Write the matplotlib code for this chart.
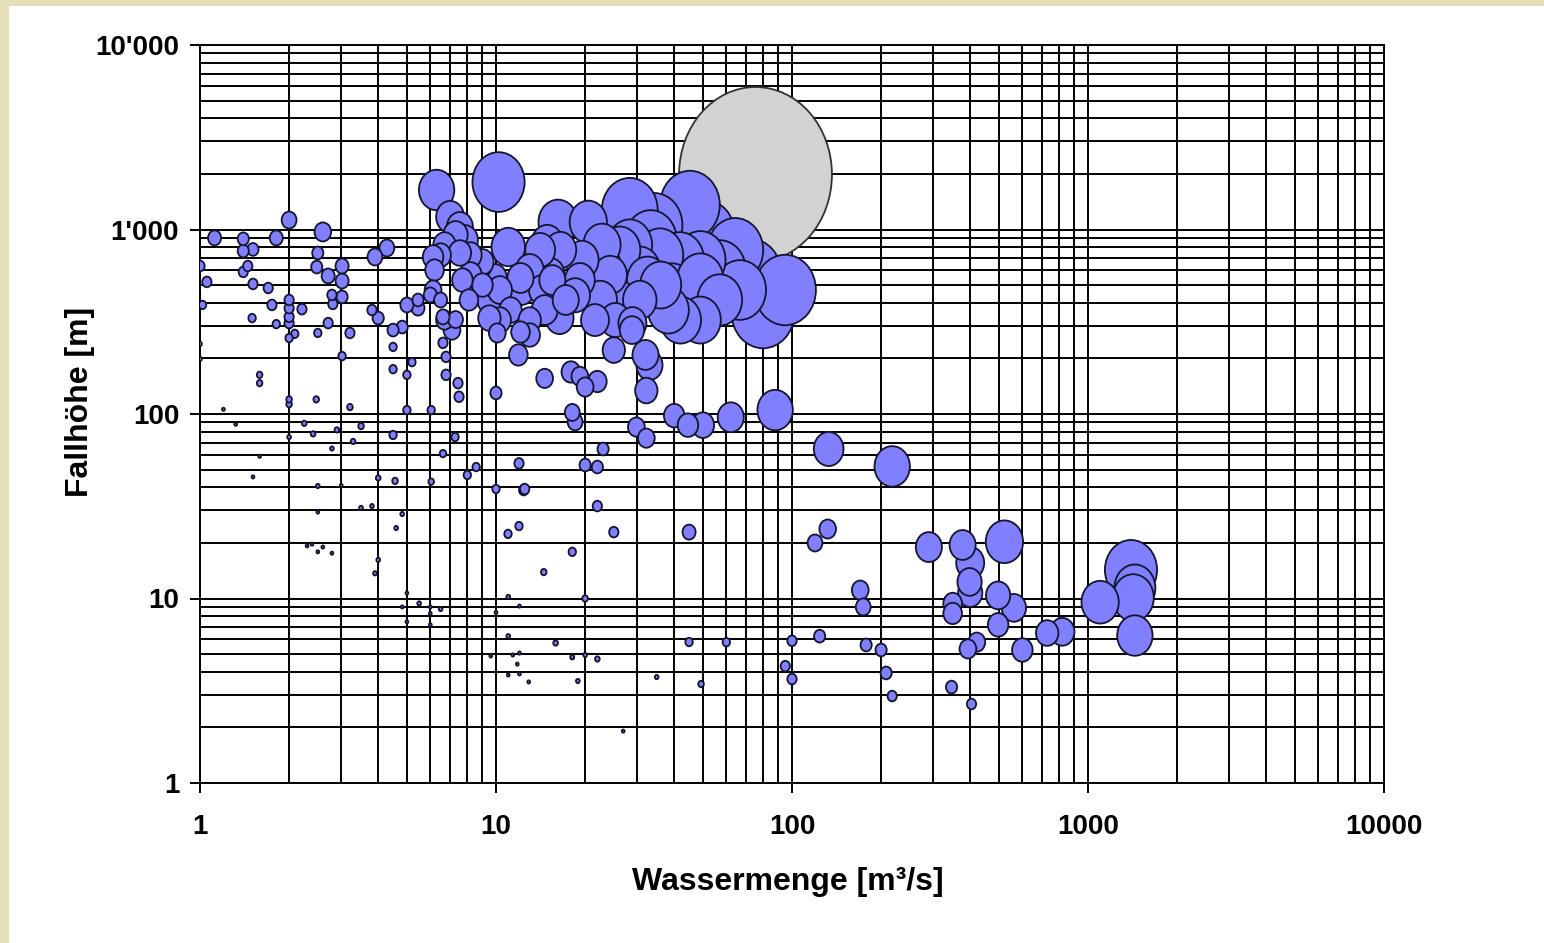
import numpy as np
import matplotlib.pyplot as plt
from matplotlib.path import Path
from matplotlib.transforms import Affine2D
from matplotlib.patches import Rectangle

plt.rcParams['font.family'] = ['Liberation Sans', 'DejaVu Sans']
plt.rcParams['font.weight'] = 'bold'

# Wasserkraftwerke: Wassermenge [m3/s], Fallhoehe [m], Leistung [MW] (bubble size)
Q = [1.12, 1.40, 1.40, 1.51, 1.45, 1.40, 1.51, 1.70, 1.81, 2.0,
     2.60, 2.50, 2.48, 2.71, 3.02, 3.02, 3.02, 2.79, 2.81, 2.71,
     2.50, 3.21, 3.02, 1.75, 1.50, 1.81, 2.0, 2.0, 2.21, 2.0,
     2.0, 2.09, 2.0, 1.0, 1.055, 1.02, 1.0, 1.0, 1.59, 1.59,
     2.0, 2.0, 2.47, 3.21, 1.20, 1.32, 2.25, 2.41, 2.90, 3.50,
     3.29, 2.79, 2.0, 1.59, 1.51, 4.49, 5.0, 6.04, 7.27, 6.62,
     8.57, 8.0, 4.0, 4.56, 6.04, 4.49, 4.49, 5.2, 5.0, 6.62,
     6.78, 6.78, 7.44, 7.5, 10.0, 3.90, 4.28, 3.81, 4.0, 4.49,
     4.82, 5.0, 5.45, 6.0, 5.45, 6.62, 7.3,
     10.0, 12.5, 11.96, 18.1, 11.96, 10.98, 14.5, 2.5, 3.0, 3.5,
     3.81, 2.5, 4.82, 4.6, 2.30, 2.39, 2.60, 2.5, 2.79, 4.0,
     3.9, 5.0, 4.82, 5.5, 6.0, 6.0, 6.5, 5.0, 6.0, 11.0,
     12.0, 10.0, 11.0, 15.9, 18.1, 11.4, 12.0, 11.8, 11.0, 12.0,
     12.9, 9.6, 18.9, 20.0, 22.0, 23.0, 12.4, 22.0, 25.0, 44.9,
     20.0, 44.9, 60.0, 100.0, 124.0, 94.9, 100.0, 18.1, 20.0, 22.0,
     34.9, 49.3, 26.9, 119.6, 132.0, 133.0, 87.7, 218.0, 62.1,
     290.0, 377.0, 522.0, 400.0, 398.0, 400.0, 349.0, 349.0, 497.0, 562.0,
     497.0, 421.0, 393.0, 600.0, 728.0, 819.0, 1099.0, 1397.0, 1440.0, 1422.0,
     1440.0, 346.0, 404.0, 170.0, 174.0, 178.0, 200.0, 208.0, 218.0,
     14.6, 17.9, 19.2, 22.0, 20.0, 25.0, 18.1, 18.5, 29.8, 32.2,
     40.0, 44.5, 50.0, 32.0, 33.0, 32.2, 28.8, 11.9,
     10.2, 6.3, 11.0, 16.2, 20.5, 28.3, 34.3, 45.2, 50.6, 64.3,
     72.2, 79.8, 94.8, 49.0, 49.0, 38.2, 39.3, 30.6, 26.2, 22.8,
     19.5, 16.5, 14.1, 13.0, 15.2, 19.2, 24.3, 22.5, 26.2, 30.6,
     25.3, 21.6, 16.4, 14.3, 12.2, 10.3, 9.5, 8.8, 10.3, 9.5,
     11.2, 13.0, 13.0, 10.1, 8.1, 6.7, 6.2, 6.13, 6.5, 6.7,
     7.3, 7.55, 7.85, 8.2, 9.0, 7.7, 7.1, 8.2, 22.8, 28.3,
     33.3, 35.8, 41.8, 49.0, 57.0, 66.7, 45.2, 57.0, 42.0, 32.5,
     36.0, 17.2, 15.5, 18.5, 14.6, 6.5, 6.13, 7.55, 9.0, 9.9,
     12.1, 14.9, 7.0, 12.1, 28.9]
H = [900, 890, 765, 780, 634, 589, 507, 482, 900, 1125,
     970, 746, 626, 560, 634, 526, 431, 442, 395, 311,
     275, 275, 206, 390, 331, 307, 415, 375, 370, 336,
     311, 272, 258, 634, 520, 390, 240, 199, 163, 147,
     120, 113, 120, 109, 106, 88, 89, 78, 82, 86,
     71, 65, 75, 59, 45.6, 77, 105, 105, 75, 61,
     51.6, 46.7, 45, 43.4, 43, 231, 175, 191, 163, 243,
     204, 163, 147, 124, 130, 710, 794, 366, 331, 285,
     296, 390, 375, 442, 415, 336, 325,
     39.2, 39.2, 54, 17.9, 24.7, 22.4, 13.9, 40.7, 41, 31,
     31.7, 29.4, 28.7, 24.1, 19.3, 19.7, 19.0, 17.9, 17.6, 16.2,
     13.7, 10.7, 9.0, 9.4, 9.0, 8.3, 8.77, 7.47, 7.2, 10.2,
     9.1, 8.4, 6.25, 5.74, 4.82, 4.94, 5.06, 4.41, 3.85, 3.9,
     3.53, 4.88, 3.57, 52.9, 51.6, 64.6, 38.7, 31.7, 22.9, 22.9,
     10.0, 5.81, 5.8, 5.9, 6.25, 4.3, 3.66, 4.8, 4.94, 4.7,
     3.75, 3.44, 1.91, 20.0, 23.8, 64.6, 105, 52, 96,
     19.0, 19.5, 20.3, 15.6, 12.3, 10.7, 9.4, 8.3, 10.4, 8.9,
     7.2, 5.8, 5.33, 5.26, 6.5, 6.6, 9.55, 14.3, 11.4, 10.1,
     6.3, 3.31, 2.68, 11.1, 9.0, 5.6, 5.26, 3.95, 2.96,
     156, 169, 160, 150, 140, 222, 102, 90.6, 85, 74,
     98, 87, 87, 209, 184, 134, 285, 209,
     1808, 1637, 804, 1098, 1098, 1277, 1057, 1358, 934, 774,
     567, 357, 470, 532, 323, 366, 470, 603, 774, 824,
     684, 774, 774, 603, 567, 532, 567, 415, 415, 415,
     323, 323, 331, 470, 470, 470, 415, 643, 323, 331,
     366, 323, 268, 275, 415, 323, 603, 470, 727, 824,
     934, 1032, 877, 727, 500, 532, 285, 567, 640, 824,
     877, 727, 684, 684, 603, 470, 415, 415, 323, 532,
     500, 415, 532, 440, 366, 415, 710, 746, 667, 546,
     546, 845, 1170, 278, 311]
P = [9.3, 6.8, 6.8, 6.8, 4.7, 4.7, 4.7, 4.7, 9.3, 12,
     15, 6.8, 6.8, 9.3, 9.3, 9.3, 6.8, 4.7, 4.7, 4.7,
     3.0, 4.7, 3.0, 4.7, 3.0, 3.0, 4.7, 4.7, 4.7, 4.7,
     4.7, 3.0, 3.0, 4.7, 4.7, 3.0, 0.76, 0.76, 1.7, 1.7,
     1.7, 1.7, 1.7, 1.7, 0.43, 0.43, 1.2, 1.2, 1.2, 1.7,
     1.2, 0.76, 0.76, 0.43, 0.43, 3.0, 3.0, 3.0, 3.0, 2.3,
     3.0, 3.0, 1.2, 1.7, 1.7, 3.0, 3.0, 3.0, 3.0, 4.7,
     4.7, 4.7, 4.7, 4.7, 6.8, 12, 12, 4.7, 6.8, 6.8,
     6.8, 9.3, 9.3, 9.3, 6.8, 9.3, 12,
     3.0, 4.7, 4.7, 3.0, 3.0, 3.0, 1.7, 0.76, 0.43, 0.76,
     0.76, 0.43, 0.76, 0.76, 0.43, 0.43, 0.43, 0.43, 0.43, 0.76,
     0.76, 0.43, 0.43, 0.76, 0.43, 0.43, 0.76, 0.43, 0.43, 0.76,
     0.43, 0.43, 0.76, 1.2, 0.76, 0.43, 0.43, 0.43, 0.43, 0.43,
     0.43, 0.43, 0.76, 6.8, 6.8, 6.8, 4.7, 4.7, 4.7, 9.3,
     1.7, 3.0, 3.0, 4.7, 6.8, 4.7, 4.7, 0.76, 0.76, 1.2,
     0.76, 1.7, 0.43, 12, 15, 48, 68, 68, 37,
     37, 37, 75.6, 42.5, 32, 32, 18.9, 18.9, 32, 32,
     22.9, 15.3, 15.3, 22.9, 27.2, 32, 75.6, 148, 91.5, 91.5,
     68, 6.8, 4.7, 15.3, 12, 6.8, 6.8, 6.8, 4.7,
     15.3, 18.9, 15.3, 18.9, 15.3, 27.2, 12, 12, 15.3, 15.3,
     22.9, 22.9, 27.2, 37, 37, 27.2, 32, 18.9,
     148, 68, 61, 83, 75.6, 170, 170, 194, 206, 170,
     218, 218, 206, 118, 91.5, 91.5, 118, 91.5, 91.5, 75.6,
     61, 54.6, 48.4, 42.5, 48.4, 48.4, 61, 61, 61, 61,
     48.4, 42.5, 42.5, 37, 37, 32, 32, 32, 27.2, 27.2,
     27.2, 27.2, 22.9, 15.3, 18.9, 15.3, 18.9, 15.3, 22.9, 27.2,
     32, 37, 37, 27.2, 22.9, 22.9, 15.3, 27.2, 75.6, 109,
     148, 118, 128, 138, 148, 148, 118, 109, 91.5, 91.5,
     91.5, 37, 37, 48.4, 37, 9.3, 22.9, 27.2, 27.2, 32,
     37, 54.6, 42.5, 18.9, 42.5]

# the grey bubble
Q_grau = [75]
H_grau = [2000]
P_grau = [1270]

x_ticks = [1, 10, 100, 1000, 10000]
x_labels = ["1", "10", "100", "1000", "10000"]
y_ticks = [1, 10, 100, 1000, 10000]
y_labels = ["1", "10", "100", "1'000", "10'000"]

Q = np.array(Q)
H = np.array(H)
P = np.array(P)
order = np.argsort(-P)

# Excel bubbles are a little taller than wide
ell = Path.unit_circle().transformed(Affine2D().scale(1 / 1.07, 1.07))

fig = plt.figure(figsize=(15.44, 9.43), dpi=100, facecolor='#E6DEBB')
fig.patches.append(Rectangle((9 / 1544, 0), 1, 1 - 6 / 943, transform=fig.transFigure,
                             facecolor='white', edgecolor='none', zorder=-10))

ax = fig.add_axes([200 / 1544, 1 - 783 / 943, 1184 / 1544, 738 / 943])
ax.set_xscale('log')
ax.set_yscale('log')
ax.set_xlim(1, 10000)
ax.set_ylim(1, 10000)
ax.set_axisbelow(True)
ax.grid(True, which='both', color='black', linewidth=1.4)

ax.scatter(Q_grau, H_grau, s=np.array(P_grau) * 12.5, marker=ell, facecolor='#D2D2D2',
           edgecolor='#333333', linewidth=1.3, zorder=2)
ax.scatter(Q[order], H[order], s=P[order] * 12.5, marker=ell, facecolor='#8080FF',
           edgecolor='#15152e', linewidth=1.3, zorder=3)

ax.set_xticks(x_ticks, labels=x_labels)
ax.set_yticks(y_ticks, labels=y_labels)
ax.tick_params(which='major', direction='out', length=7, width=1.4, labelsize=20)
ax.tick_params(axis='x', which='major', pad=15)
ax.tick_params(axis='y', which='major', pad=8)
ax.tick_params(which='minor', length=0)
for sp in ax.spines.values():
    sp.set_color('black')
    sp.set_linewidth(1.4)

fig.text(788 / 1544, 1 - 882 / 943, "Wassermenge [m³/s]", ha='center', va='center',
         fontsize=23, fontweight='bold')
fig.text(80 / 1544, 1 - 402 / 943, "Fallhöhe [m]", ha='center', va='center',
         rotation=90, fontsize=23, fontweight='bold')

fig.savefig('out.png', dpi=100)
